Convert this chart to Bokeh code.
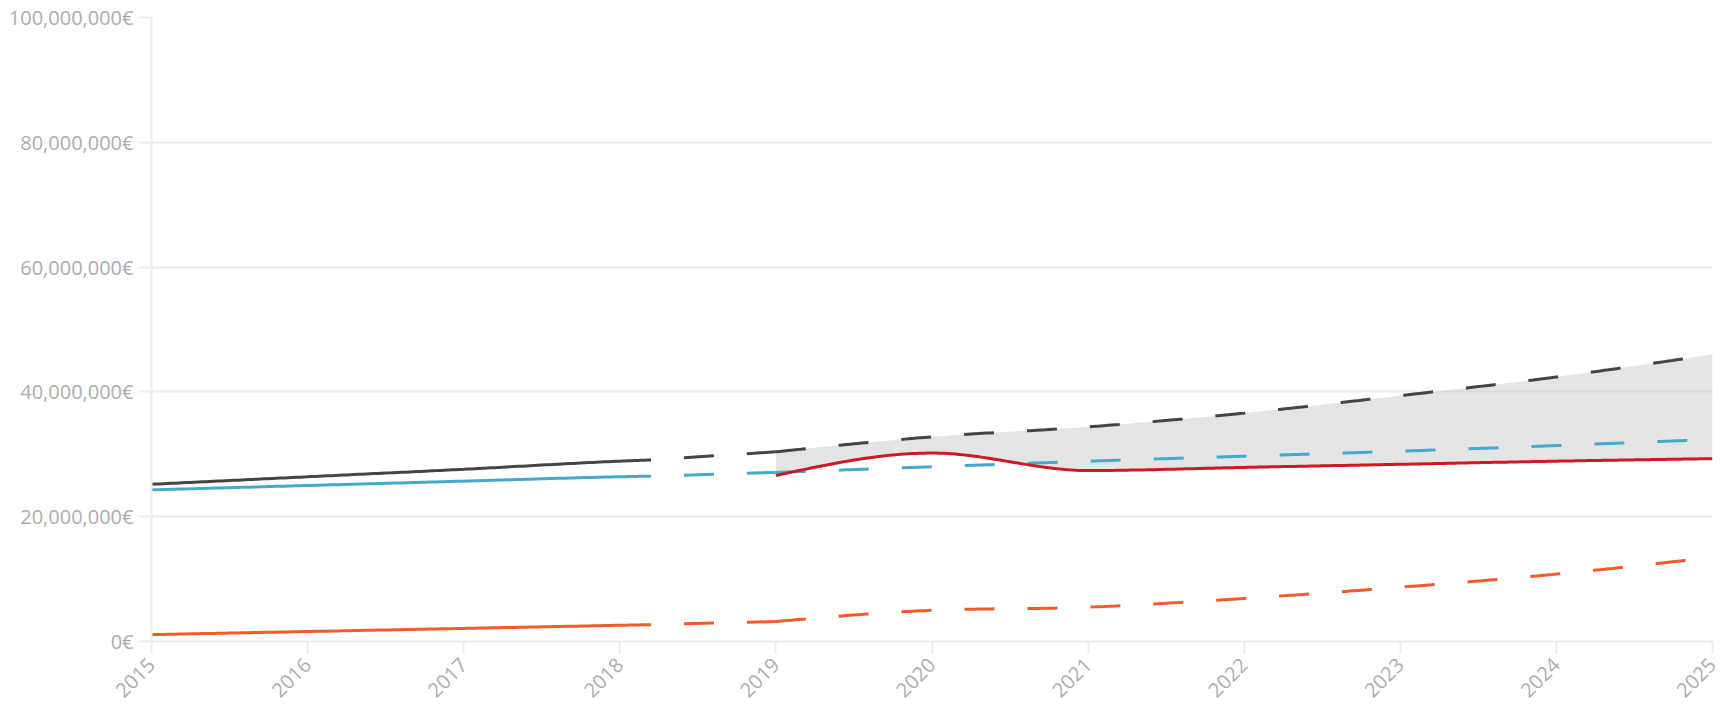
import numpy as np
from bokeh.plotting import figure
from bokeh.models import Range1d, FixedTicker, CustomJSTickFormatter
from bokeh.embed import file_html
from bokeh.resources import INLINE

# ---- data (millions of euros) ----
hist_years = [2015, 2016, 2017, 2018, 2018.2]
hist_black = [25.2, 26.4, 27.6, 28.9, 29.1]
hist_blue = [24.3, 25.0, 25.7, 26.4, 26.5]
hist_orange = [1.1, 1.6, 2.1, 2.6, 2.7]

link_years = [2018.2, 2019]
link_black = [29.1, 30.4]
link_blue = [26.5, 27.1]
link_orange = [2.7, 3.2]

proj_years = [2019, 2020, 2021, 2022, 2023, 2024, 2025]
proj_black = [30.4, 32.8, 34.4, 36.6, 39.4, 42.4, 46.0]
proj_blue = [27.1, 28.0, 28.9, 29.7, 30.5, 31.4, 32.4]
proj_orange = [3.2, 5.0, 5.5, 6.9, 8.7, 10.8, 13.5]
proj_red = [26.6, 30.2, 27.4, 27.9, 28.4, 28.9, 29.3]

y_ticks = [0, 20, 40, 60, 80, 100]
x_ticks = list(range(2015, 2026))

BLACK = "#444444"
BLUE = "#45a9cc"
ORANGE = "#f15a29"
RED = "#cc1922"
LABEL = "#adadad"
GRID = "#ececec"
M = 1e6


def monotone(xs, ys, n=40):
    """Render a monotone cubic (d3 curveMonotoneX) through the data points."""
    x = np.asarray(xs, float)
    y = np.asarray(ys, float)
    h = np.diff(x)
    s = np.diff(y) / h
    k = len(x)
    t = np.zeros(k)
    for i in range(1, k - 1):
        s0, s1 = s[i - 1], s[i]
        if s0 * s1 <= 0:
            t[i] = 0.0
        else:
            p = (s0 * h[i] + s1 * h[i - 1]) / (h[i - 1] + h[i])
            t[i] = (np.sign(s0) + np.sign(s1)) * min(abs(s0), abs(s1), 0.5 * abs(p))
    if k > 2:
        t[0] = (3 * s[0] - t[1]) / 2
        t[-1] = (3 * s[-1] - t[-2]) / 2
    else:
        t[0] = t[-1] = s[0]
    ox, oy = [], []
    for i in range(k - 1):
        u = np.linspace(0, 1, n, endpoint=(i == k - 2))
        h00 = 2 * u**3 - 3 * u**2 + 1
        h10 = u**3 - 2 * u**2 + u
        h01 = -2 * u**3 + 3 * u**2
        h11 = u**3 - u**2
        ox.extend(x[i] + u * h[i])
        oy.extend(h00 * y[i] + h10 * h[i] * t[i] + h01 * y[i + 1] + h11 * h[i] * t[i + 1])
    return np.array(ox), np.array(oy) * M


p = figure(width=1726, height=706, output_backend="svg", toolbar_location=None,
           x_range=Range1d(2015, 2025), y_range=Range1d(0, 100 * M),
           min_border_left=151, min_border_right=14, min_border_top=17, min_border_bottom=65)
p.outline_line_color = None
p.background_fill_color = "white"
p.border_fill_color = "white"

p.xgrid.grid_line_color = None
p.ygrid.grid_line_color = GRID
p.ygrid.grid_line_width = 2
p.ygrid.ticker = FixedTicker(ticks=[v * M for v in y_ticks])

for ax in (p.xaxis, p.yaxis):
    ax.axis_line_color = GRID
    ax.axis_line_width = 2
    ax.major_tick_line_color = GRID
    ax.major_tick_line_width = 2
    ax.major_tick_in = 0
    ax.major_tick_out = 12
    ax.minor_tick_line_color = None
    ax.major_label_text_color = LABEL
    ax.major_label_text_font = "Open Sans"
    ax.major_label_text_font_size = "20px"

p.yaxis.ticker = FixedTicker(ticks=[v * M for v in y_ticks])
p.yaxis.formatter = CustomJSTickFormatter(code="return Math.round(tick).toLocaleString('en-US') + '\u20ac';")
p.yaxis.major_label_standoff = 6
p.xaxis.ticker = FixedTicker(ticks=x_ticks)
p.xaxis.formatter = CustomJSTickFormatter(code="return String(Math.round(tick));")
p.xaxis.major_label_orientation = np.pi / 4
p.xaxis.major_label_standoff = 8

# band between projected maximum and red curve
bx, btop = monotone(proj_years, proj_black)
_, bbot = monotone(proj_years, proj_red)
p.varea(x=bx, y1=bbot, y2=btop, fill_color="#c4c4c4", fill_alpha=0.45)

DASH = "30 33"
for hy, ly, py, col in [(hist_orange, link_orange, proj_orange, ORANGE),
                        (hist_blue, link_blue, proj_blue, BLUE),
                        (hist_black, link_black, proj_black, BLACK)]:
    hx, hyy = monotone(hist_years, hy)
    p.line(hx, hyy, line_color=col, line_width=3)
    p.line(np.array(link_years), np.array(ly) * M, line_color=col, line_width=3,
           line_dash=DASH, line_dash_offset=30)
    px_, pyy = monotone(proj_years, py)
    p.line(px_, pyy, line_color=col, line_width=3, line_dash=DASH)

rx, ry = monotone(proj_years, proj_red)
p.line(rx, ry, line_color=RED, line_width=3)

open("out.html", "w").write(file_html(p, INLINE))
